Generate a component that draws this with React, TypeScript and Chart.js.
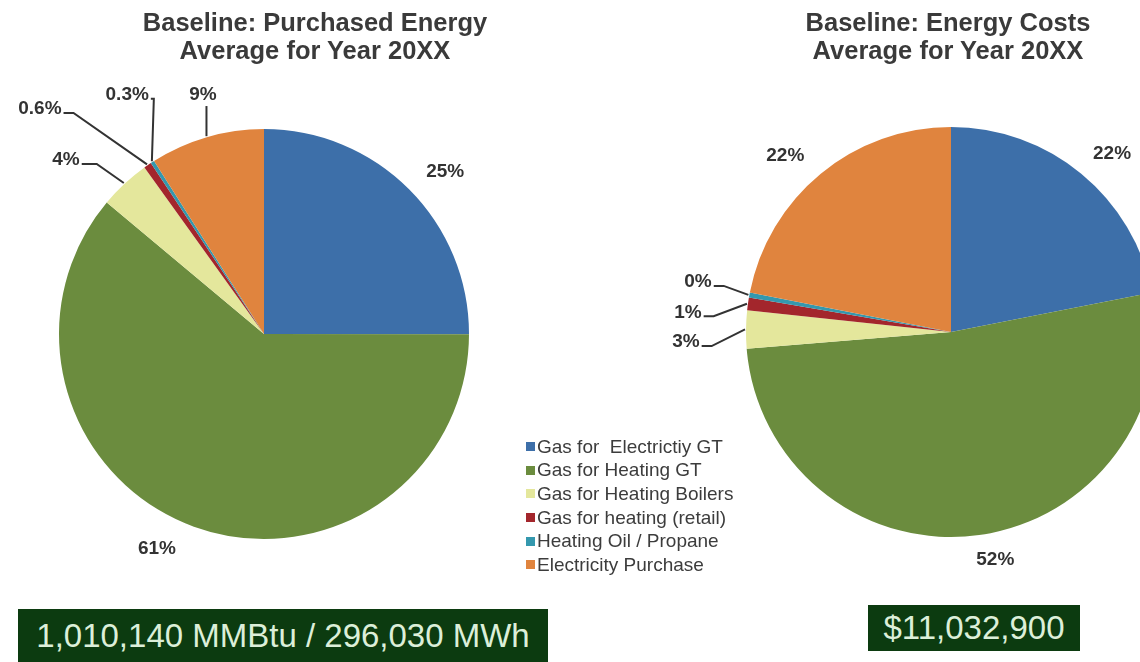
import React, { useEffect, useRef } from 'react';
import { Chart, registerables } from 'chart.js';

Chart.register(...registerables);

// ---------- data ----------
const categories = [
  'Gas for  Electrictiy GT',
  'Gas for Heating GT',
  'Gas for Heating Boilers',
  'Gas for heating (retail)',
  'Heating Oil / Propane',
  'Electricity Purchase',
];
const sliceColors = ['#3d6fa9', '#6b8c3e', '#e4e79c', '#a3262c', '#3498ae', '#e0843e'];
const energyShares = [25, 61, 4, 0.6, 0.3, 9];
const costShares = [22, 52, 3, 1, 0.4, 22];
const energyTitle = ['Baseline: Purchased Energy', 'Average for Year 20XX'];
const costTitle = ['Baseline: Energy Costs', 'Average for Year 20XX'];
const energyTotal = '1,010,140 MMBtu / 296,030 MWh';
const costTotal = '$11,032,900';

// ---------- label layout (angle shift in degrees, distance as a fraction of radius) ----------
type LabelPlace = { shift: number; dist: number; leader?: 'side' | 'bottom'; elbow?: number };
const energyPlaces: LabelPlace[] = [
  { shift: 3.2, dist: 1.185 },
  { shift: 6.5, dist: 1.17 },
  { shift: -5.8, dist: 1.286, leader: 'side', elbow: 15 },
  { shift: -10.3, dist: 1.549, leader: 'side', elbow: 10 },
  { shift: 3.2, dist: 1.344, leader: 'side', elbow: 3 },
  { shift: 1.9, dist: 1.203, leader: 'bottom' },
];
const costPlaces: LabelPlace[] = [
  { shift: 2.7, dist: 1.171 },
  { shift: -3.1, dist: 1.133 },
  { shift: -2.9, dist: 1.294, leader: 'side', elbow: 10 },
  { shift: -3.6, dist: 1.287, leader: 'side', elbow: 10 },
  { shift: 0.8, dist: 1.258, leader: 'side', elbow: 10 },
  { shift: -3.8, dist: 1.18 },
];

const FONT = '"Liberation Sans", Arial, Helvetica, sans-serif';

const makeLabelPlugin = (format: (v: number) => string, places: LabelPlace[]) => ({
  id: 'sliceLabels',
  afterDatasetsDraw(chart: any) {
    const ctx = chart.ctx as CanvasRenderingContext2D;
    const meta = chart.getDatasetMeta(0);
    const data = chart.data.datasets[0].data as number[];
    ctx.save();
    ctx.font = `bold 19px ${FONT}`;
    ctx.fillStyle = '#333333';
    ctx.strokeStyle = '#333333';
    ctx.lineWidth = 2;
    ctx.textAlign = 'center';
    ctx.textBaseline = 'middle';
    meta.data.forEach((arc: any, i: number) => {
      const { x, y, startAngle, endAngle, outerRadius } = arc.getProps(
        ['x', 'y', 'startAngle', 'endAngle', 'outerRadius'],
        true
      );
      const mid = (startAngle + endAngle) / 2;
      const p = places[i];
      const a = mid + (p.shift * Math.PI) / 180;
      const lx = x + Math.cos(a) * outerRadius * p.dist;
      const ly = y + Math.sin(a) * outerRadius * p.dist;
      const text = format(data[i]);
      ctx.fillText(text, lx, ly);
      if (p.leader) {
        const ax = x + Math.cos(mid) * (outerRadius + 1);
        const ay = y + Math.sin(mid) * (outerRadius + 1);
        const w = ctx.measureText(text).width;
        ctx.beginPath();
        if (p.leader === 'bottom') {
          ctx.moveTo(ax, ly + 11);
          ctx.lineTo(ax, ay);
        } else {
          const sx = lx + w / 2 + 2;
          const sy = ly + 4;
          ctx.moveTo(sx, sy);
          ctx.lineTo(sx + (p.elbow || 0), sy);
          ctx.lineTo(ax, ay);
        }
        ctx.stroke();
      }
    });
    ctx.restore();
  },
});

type PieProps = {
  values: number[];
  places: LabelPlace[];
  format: (v: number) => string;
  padding: { left: number; right: number; top: number; bottom: number };
};

const CANVAS_W = 1200;
const CANVAS_H = 662;

function PieCanvas({ values, places, format, padding }: PieProps) {
  const ref = useRef<HTMLCanvasElement | null>(null);
  useEffect(() => {
    if (!ref.current) return;
    const chart = new Chart(ref.current, {
      type: 'pie',
      data: {
        labels: categories,
        datasets: [
          {
            data: values,
            backgroundColor: sliceColors,
            borderWidth: 0,
            hoverOffset: 0,
          },
        ],
      },
      options: {
        responsive: false,
        animation: false,
        events: [],
        layout: { padding },
        plugins: {
          legend: { display: false },
          tooltip: { enabled: false },
          title: { display: false },
        },
      },
      plugins: [makeLabelPlugin(format, places)],
    } as any);
    return () => chart.destroy();
  }, []);
  return (
    <canvas
      ref={ref}
      width={CANVAS_W}
      height={CANVAS_H}
      style={{ position: 'absolute', left: 0, top: 0, width: CANVAS_W, height: CANVAS_H, display: 'block' }}
    />
  );
}

function Title({ lines, cx }: { lines: string[]; cx: number }) {
  return (
    <div
      style={{
        position: 'absolute',
        left: cx - 260,
        top: 8,
        width: 520,
        textAlign: 'center',
        fontFamily: FONT,
        fontWeight: 'bold',
        fontSize: 25.5,
        lineHeight: '28px',
        color: '#3a3a3a',
      }}
    >
      {lines.map((l, i) => (
        <div key={i}>{l}</div>
      ))}
    </div>
  );
}

export default function App() {
  return (
    <div
      style={{
        position: 'absolute',
        left: 0,
        top: 0,
        width: 1140,
        height: 662,
        overflow: 'hidden',
        background: '#ffffff',
      }}
    >
      <PieCanvas
        values={energyShares}
        places={energyPlaces}
        format={(v) => `${v}%`}
        padding={{ left: 59, right: CANVAS_W - 469, top: 129, bottom: CANVAS_H - 539 }}
      />
      <PieCanvas
        values={costShares}
        places={costPlaces}
        format={(v) => `${Math.round(v)}%`}
        padding={{ left: 746, right: CANVAS_W - 1156, top: 127, bottom: CANVAS_H - 537 }}
      />
      <Title lines={energyTitle} cx={315} />
      <Title lines={costTitle} cx={948} />

      <div
        style={{
          position: 'absolute',
          left: 526,
          top: 435,
          fontFamily: FONT,
          fontSize: 19,
          color: '#3c3c3c',
        }}
      >
        {categories.map((c, i) => (
          <div key={i} style={{ display: 'flex', alignItems: 'center', height: 23.6, whiteSpace: 'pre' }}>
            <span
              style={{
                display: 'inline-block',
                width: 9,
                height: 9,
                background: sliceColors[i],
                marginRight: 2,
              }}
            />
            <span>{c}</span>
          </div>
        ))}
      </div>

      <div
        style={{
          position: 'absolute',
          left: 18,
          top: 609,
          width: 530,
          height: 70,
          background: '#0c3b10',
          color: '#dcefd9',
          fontFamily: FONT,
          fontSize: 33,
          lineHeight: '36px',
          paddingTop: 9,
          boxSizing: 'border-box',
          textAlign: 'center',
          whiteSpace: 'nowrap',
        }}
      >
        {energyTotal}
      </div>
      <div
        style={{
          position: 'absolute',
          left: 868,
          top: 605,
          width: 212,
          height: 46,
          background: '#0c3b10',
          color: '#dcefd9',
          fontFamily: FONT,
          fontSize: 33,
          lineHeight: '46px',
          textAlign: 'center',
          whiteSpace: 'nowrap',
        }}
      >
        {costTotal}
      </div>
    </div>
  );
}
